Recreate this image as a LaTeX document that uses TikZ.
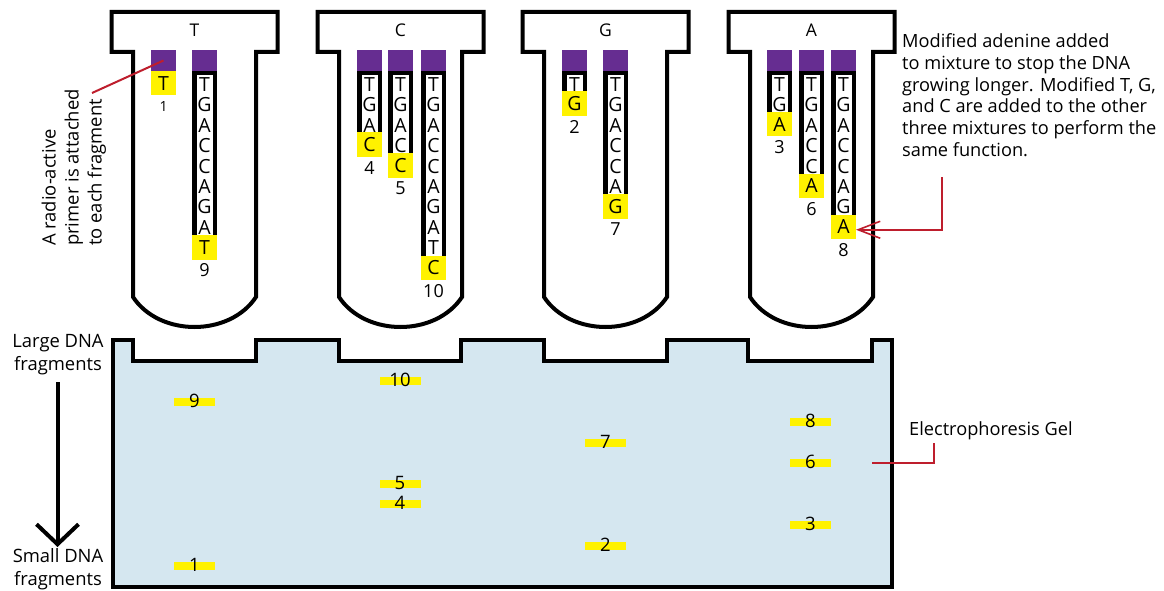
\documentclass[tikz,border=0pt]{standalone}
\usepackage{fontspec}
\setmainfont{Open Sans}
\usetikzlibrary{arrows.meta,calc}
\definecolor{gelblue}{RGB}{213,231,240}
\definecolor{primer}{RGB}{102,45,145}
\definecolor{bandyel}{RGB}{255,242,0}
\definecolor{annred}{RGB}{190,30,45}
\tikzset{
  tubeline/.style={line width=4pt, draw=black, fill=white, line join=miter},
  gelline/.style={line width=4pt, draw=black, fill=gelblue, line join=miter},
  primerbox/.style={rectangle, fill=primer, minimum width=25pt, minimum height=21pt, inner sep=0pt, outer sep=0pt},
  termbox/.style={rectangle, fill=bandyel, minimum width=25pt, minimum height=24.5pt, inner sep=0pt, outer sep=0pt, font=\fontsize{19.5}{21}\selectfont},
  dnaletter/.style={inner sep=0pt, font=\fontsize{19.5}{21}\selectfont},
  numlbl/.style={inner sep=0pt, font=\fontsize{18}{20}\selectfont},
  tubelbl/.style={inner sep=0pt, font=\fontsize{17.5}{20}\selectfont},
  note/.style={inner sep=0pt, align=left, font=\fontsize{18.2}{21.7}\selectfont},
  rot/.style={inner sep=0pt, align=left, font=\fontsize{18.4}{23}\selectfont},
  side/.style={inner sep=0pt, align=center, font=\fontsize{18.4}{23}\selectfont},
  band/.style={rectangle, fill=bandyel, minimum width=41pt, minimum height=8.5pt, inner sep=0pt},
  bandnum/.style={inner sep=0pt, font=\fontsize{18.5}{20}\selectfont},
  annline/.style={draw=annred, line width=2pt},
}
\newcommand{\tubeshape}[2]{%
  \draw[tubeline] (#2-61.5,297) -- (#2-61.5,52) -- (#2-83,52) -- (#2-83,12) -- (#2+83,12) -- (#2+83,52) -- (#2+61.5,52) -- (#2+61.5,297) .. controls (#2+35,337) and (#2-35,337) .. (#2-61.5,297) -- cycle;
  \node[tubelbl] (tube#1) at (#2,30) {#1};
}
\newcommand{\dnastrand}[6]{%
  \pgfmathsetmacro{\ytop}{71+20.5*#3}
  \node[primerbox] (#1-p) at (#2+12.5,60.5) {};
  \ifnum#3>0
    \fill[black] (#2,71) rectangle (#2+25,\ytop);
    \fill[white] (#2+4.5,75) rectangle (#2+20.5,\ytop);
    \foreach \lett [count=\k] in {#4} {\node[dnaletter] (#1-\k) at (#2+12.5,{84.5+20.4*(\k-1)}) {\lett};}
  \fi
  \node[termbox] (#1-end) at (#2+12.5,\ytop+12.25) {#5};
  \node[numlbl] (#1-num) at (#2+12.5,\ytop+35.5) {#6};
}
\begin{document}
\begin{tikzpicture}[x=1pt,y=-1pt]
\useasboundingbox (0,0) rectangle (1164,591);
% tubes
\tubeshape{T}{194.5}
\tubeshape{C}{400.5}
\tubeshape{G}{605.5}
\tubeshape{A}{811.5}
% strands
\dnastrand{T1}{151}{0}{}{T}{\fontsize{14}{16}\selectfont 1}
\dnastrand{T2}{192}{8}{T,G,A,C,C,A,G,A}{T}{9}
\dnastrand{C1}{357}{3}{T,G,A}{C}{4}
\dnastrand{C2}{388}{4}{T,G,A,C}{C}{5}
\dnastrand{C3}{421}{9}{T,G,A,C,C,A,G,A,T}{C}{10}
\dnastrand{G1}{562}{1}{T}{G}{2}
\dnastrand{G2}{603}{6}{T,G,A,C,C,A}{G}{7}
\dnastrand{A1}{767}{2}{T,G}{A}{3}
\dnastrand{A2}{799}{5}{T,G,A,C,C}{A}{6}
\dnastrand{A3}{831}{7}{T,G,A,C,C,A,G}{A}{8}
% gel
\draw[gelline] (113,587) -- (113,340) -- (133,340) -- (133,361) -- (256,361) -- (256,340) -- (339,340) -- (339,361) -- (461,361) -- (461,340) -- (544,340) -- (544,361) -- (667,361) -- (667,340) -- (748,340) -- (748,361) -- (872,361) -- (872,340) -- (892,340) -- (892,587) -- cycle;
% bands
\foreach \bx/\by/\bn in {194.5/402/9, 194.5/566/1, 400/381/10, 400/484/5, 400/504/4, 605.5/443/7, 605.5/546/2, 810.5/422/8, 810.5/463/6, 810.5/525/3} {
  \node[band] (band\bn) at (\bx,\by) {};
  \node[bandnum] (bandlbl\bn) at (\bx,\by-1) {\bn};
}
% texts
\node[note, anchor=north west] (note) at (902,33.5) {Modified adenine added\\to mixture to stop the DNA\\growing longer. Modified T, G,\\and C are added to the other\\three mixtures to perform the\\same function.};
\node[rot, rotate=90, anchor=north west] (primerlbl) at (41.5,246) {A radio-active\\primer is attached\\to each fragment};
\node[side, anchor=north] (large) at (58,334.5) {Large DNA\\fragments};
\node[side, anchor=south] (small) at (58,590.5) {Small DNA\\fragments};
\node[note, anchor=base west] (gellbl) at (909,435) {Electrophoresis Gel};
% connectors
\coordinate (pl) at (92,93);
\draw[annline] (pl) -- (T1-p.center);
\coordinate (ar1) at (942,177);
\draw[annline, -{Straight Barb[length=22pt,width=17pt,line width=1.6pt]}] (ar1) |- ([yshift=-3pt]A3-end.east);
\coordinate (gl1) at (872,463);
\coordinate (gl2) at (934,443);
\draw[annline] (gl1) -| (gl2);
\coordinate (la1) at (57.5,382);
\coordinate (la2) at (57.5,547);
\draw[line width=4pt, -{Straight Barb[length=20pt,width=42pt]}] (la1) -- (la2);
\end{tikzpicture}
\end{document}
